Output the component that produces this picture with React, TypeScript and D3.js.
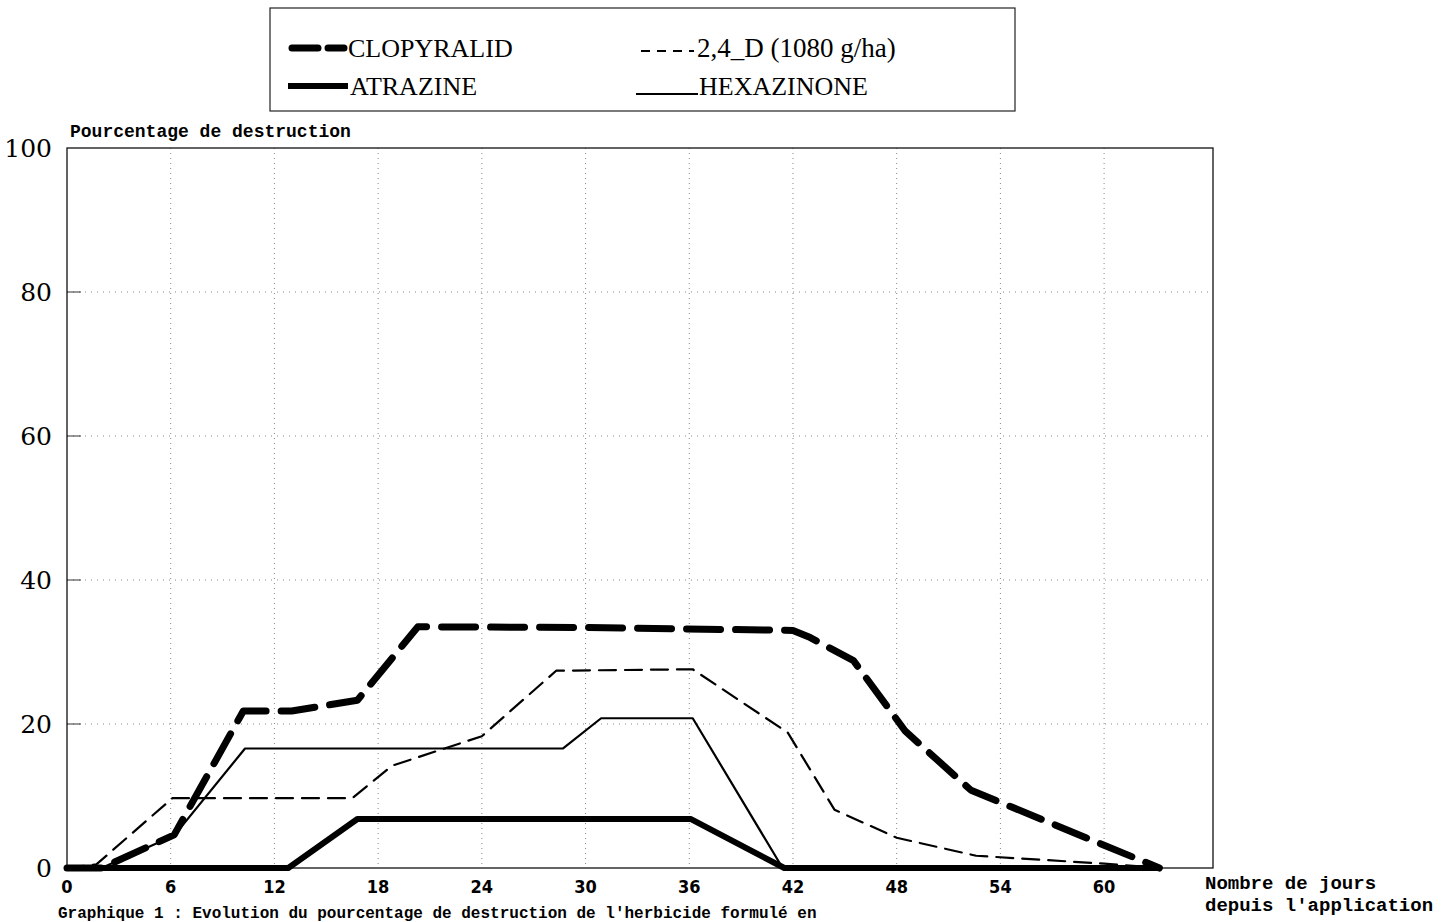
import React from "react";
import * as d3 from "d3";

// days since application, % destruction
const clopyralidDays = [0, 2, 6.2, 10.2, 13, 16.8, 20.3, 30, 42, 43, 45.5, 48.5, 52.3, 63.2];
const clopyralidVals = [0, 0, 4.6, 21.8, 21.8, 23.3, 33.5, 33.4, 33, 32, 28.8, 19, 10.8, 0];

const d24Days = [0, 1.7, 6.1, 16.5, 18.8, 24, 28.3, 36.2, 41.7, 44.4, 48, 52.6, 60, 63.2];
const d24Vals = [0, 0.5, 9.7, 9.7, 14.2, 18.3, 27.4, 27.6, 18.8, 8.1, 4.2, 1.7, 0.6, 0];

const atrazineDays = [0, 12.8, 16.8, 36.1, 41.5, 63.2];
const atrazineVals = [0, 0, 6.8, 6.8, 0, 0];

const hexazinoneDays = [0, 2, 6.2, 10.3, 28.7, 30.9, 36.2, 41.4, 63.2];
const hexazinoneVals = [0, 0, 4.5, 16.6, 16.6, 20.8, 20.8, 0, 0];

const xTicks = [0, 6, 12, 18, 24, 30, 36, 42, 48, 54, 60];
const yTicks = [0, 20, 40, 60, 80, 100];

const mono = "'Liberation Mono', 'DejaVu Sans Mono', monospace";
const serif = "'Liberation Serif', 'DejaVu Serif', serif";
const wideSerif = "'DejaVu Serif', 'Liberation Serif', serif";
const narrow = "'DejaVu Sans Condensed', 'Liberation Sans', sans-serif";

function toPoints(days: number[], vals: number[]) {
  return days.map((d, i) => ({ x: d, y: vals[i] }));
}

export default function App() {
  const width = 1452;
  const height = 922;

  const x = d3.scaleLinear().domain([0, 66.3]).range([67, 1213]);
  const y = d3.scaleLinear().domain([0, 100]).range([868, 148]);

  const line = d3
    .line<{ x: number; y: number }>()
    .x((d) => x(d.x))
    .y((d) => y(d.y));

  const series = [
    { name: "HEXAZINONE", pts: toPoints(hexazinoneDays, hexazinoneVals), w: 2.2, dash: "" },
    { name: "2,4-D", pts: toPoints(d24Days, d24Vals), w: 2.2, dash: "17 9" },
    { name: "ATRAZINE", pts: toPoints(atrazineDays, atrazineVals), w: 6, dash: "" },
    { name: "CLOPYRALID", pts: toPoints(clopyralidDays, clopyralidVals), w: 7, dash: "34 15" },
  ];

  const [x0, x1] = x.range();
  const [yb, yt] = y.range();

  return (
    <svg
      width={width}
      height={height}
      style={{ position: "absolute", left: 0, top: 0, background: "#fff" }}
    >
      {/* legend */}
      <rect x={270} y={8} width={745} height={103} fill="none" stroke="#222" strokeWidth={1.2} />
      <line x1={292} x2={344} y1={48} y2={48} stroke="#000" strokeWidth={7} strokeDasharray="26 10" strokeLinecap="round" />
      <text x={348} y={57} fontFamily={serif} fontSize={26}>CLOPYRALID</text>
      <line x1={288} x2={348} y1={86} y2={86} stroke="#000" strokeWidth={6} />
      <text x={350} y={95} fontFamily={serif} fontSize={26}>ATRAZINE</text>
      <line x1={641} x2={694} y1={51} y2={51} stroke="#000" strokeWidth={2} strokeDasharray="9 7" />
      <text x={697} y={57} fontFamily={serif} fontSize={27}>2,4_D (1080 g/ha)</text>
      <line x1={636} x2={698} y1={94} y2={94} stroke="#000" strokeWidth={1.8} />
      <text x={699} y={95} fontFamily={serif} fontSize={26}>HEXAZINONE</text>

      {/* grid */}
      {xTicks.filter((t) => t > 0).map((t) => (
        <line key={"gx" + t} x1={x(t)} x2={x(t)} y1={yt} y2={yb} stroke="#888" strokeWidth={1} strokeDasharray="1 4" />
      ))}
      {yTicks.filter((t) => t > 0 && t < 100).map((t) => (
        <g key={"gy" + t}>
          <line x1={x0} x2={x1} y1={y(t)} y2={y(t)} stroke="#888" strokeWidth={1} strokeDasharray="1 5" />
          <line x1={x0} x2={x0 + 14} y1={y(t)} y2={y(t)} stroke="#333" strokeWidth={1} />
        </g>
      ))}

      {/* frame */}
      <rect x={x0} y={yt} width={x1 - x0} height={yb - yt} fill="none" stroke="#111" strokeWidth={1.3} />

      {/* y ticks */}
      {yTicks.map((t) => (
        <text key={"ty" + t} x={52} y={y(t)} dy="0.35em" textAnchor="end" fontFamily={wideSerif} fontSize={25}>
          {t}
        </text>
      ))}
      {/* x ticks */}
      {xTicks.map((t) => (
        <text key={"tx" + t} x={x(t)} y={893} textAnchor="middle" fontFamily={narrow} fontWeight="bold" fontSize={18}>
          {t}
        </text>
      ))}

      {/* axis titles */}
      <text x={70} y={137} fontFamily={mono} fontWeight="bold" fontSize={18}>Pourcentage de destruction</text>
      <text x={1205} y={889} fontFamily={mono} fontWeight="bold" fontSize={19}>Nombre de jours</text>
      <text x={1205} y={911} fontFamily={mono} fontWeight="bold" fontSize={19}>depuis l'application</text>

      {/* series */}
      {series.map((s) => (
        <path
          key={s.name}
          d={line(s.pts) || ""}
          fill="none"
          stroke="#000"
          strokeWidth={s.w}
          strokeDasharray={s.dash || undefined}
          strokeLinecap={s.dash ? "round" : "butt"}
          strokeLinejoin="round"
        />
      ))}

      {/* caption along the bottom edge */}
      <text x={58} y={918} fontFamily={mono} fontWeight="bold" fontSize={16}>
        Graphique 1 : Evolution du pourcentage de destruction de l'herbicide formulé en
      </text>
    </svg>
  );
}
